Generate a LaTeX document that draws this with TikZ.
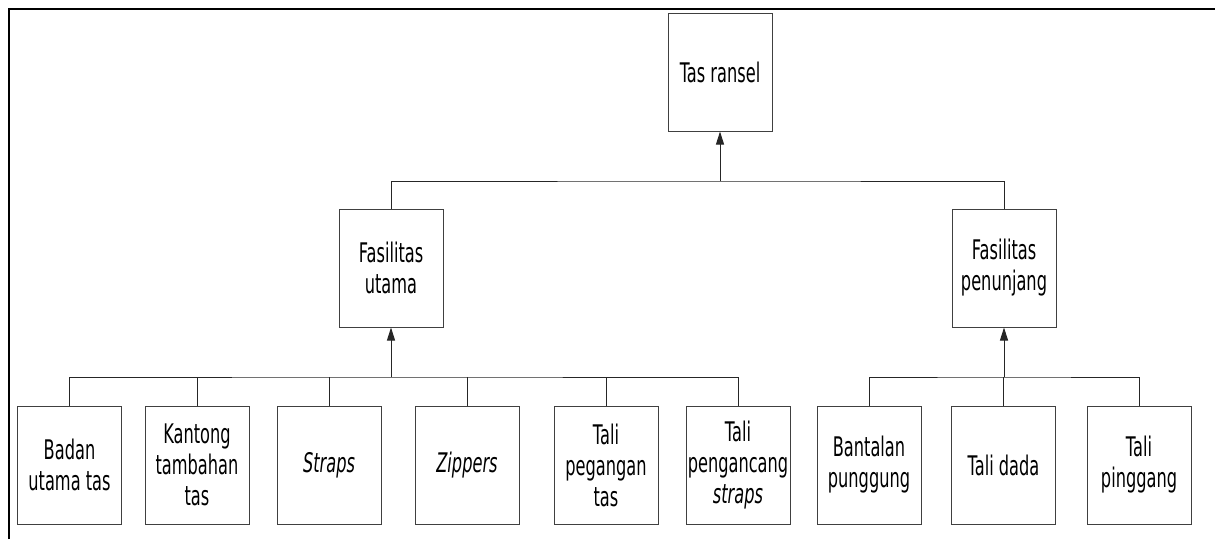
\documentclass[tikz,border=0pt]{standalone}
\usepackage{fontspec}
\setmainfont[FakeStretch=0.6]{DejaVu Sans}
\usetikzlibrary{arrows.meta}
\tikzset{
  box/.style={draw=black!75, line width=1pt, minimum width=104pt, minimum height=118pt,
    inner sep=0pt, align=center, font=\fontsize{27}{31}\selectfont},
  link/.style={draw=black!85, line width=1pt},
  up/.style={link, -{Triangle[length=13pt,width=8pt]}}
}
\begin{document}
\begin{tikzpicture}[x=1pt,y=-1pt]
    \useasboundingbox (0,0) rectangle (1215,539);
    \draw[line width=2.5pt] (9,539) -- (9,9) -- (1215,9);

    \node[box](tas)        at (720,72)    {Tas ransel};
    \node[box](utama)      at (391,268)   {Fasilitas\\utama};
    \node[box](penunjang)  at (1004,268)  {Fasilitas\\penunjang};

    \node[box](badan)      at (69.5,465)  {Badan\\utama tas};
    \node[box](kantong)    at (197,465)   {Kantong\\tambahan\\tas};
    \node[box](straps)     at (329,465)   {\itshape Straps};
    \node[box](zippers)    at (467,465)   {\itshape Zippers};
    \node[box](pegangan)   at (606,465)   {Tali\\pegangan\\tas};
    \node[box](pengancang) at (738,465)   {Tali\\pengancang\\\itshape straps};
    \node[box](bantalan)   at (869,465)   {Bantalan\\punggung};
    \node[box](dada)       at (1003.5,465){Tali dada};
    \node[box](pinggang)   at (1139,465)  {Tali\\pinggang};

    \coordinate(j-tas)       at (720,181);
    \coordinate(j-utama)     at (391,377);
    \coordinate(j-penunjang) at (1004,377);

    \draw[up]   (j-tas) -- (tas.south);
    \draw[link] (utama.north) |- (j-tas) -| (penunjang.north);

    \draw[up]   (j-utama) -- (utama.south);
    \draw[link] (badan.north) |- (j-utama) -| (pengancang.north);
    \foreach \n in {kantong,straps,zippers,pegangan}
        \draw[link] (\n.north) -- (\n.north |- j-utama);

    \draw[up]   (j-penunjang) -- (penunjang.south);
    \draw[link] (bantalan.north) |- (j-penunjang) -| (pinggang.north);
    \draw[link] (dada.north) -- (dada.north |- j-penunjang);
\end{tikzpicture}
\end{document}
